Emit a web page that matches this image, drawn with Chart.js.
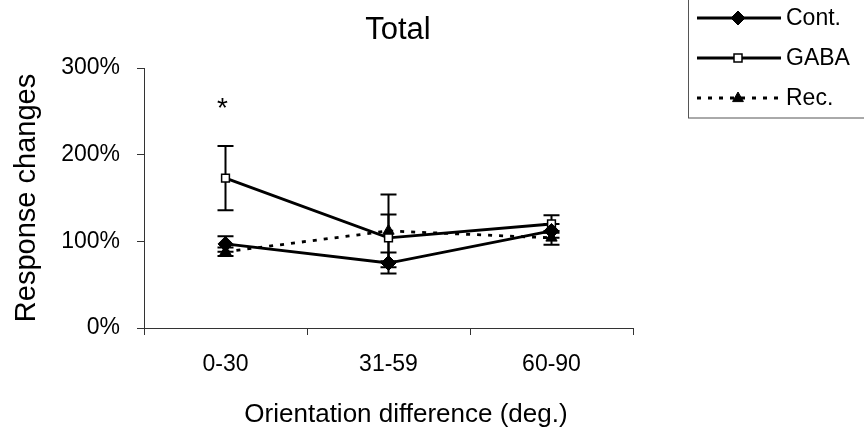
<!DOCTYPE html>
<html>
<head>
<meta charset="utf-8">
<script src="https://cdn.jsdelivr.net/npm/chart.js@4.4.1/dist/chart.umd.min.js"></script>
<style>
  html, body { margin: 0; padding: 0; background: #fff; }
  #wrap { width: 864px; height: 434px; position: relative; }
</style>
</head>
<body>
<div id="wrap"><canvas id="c" width="864" height="434"></canvas></div>
<script>
// ---- data ----
const categories = ["0-30", "31-59", "60-90"];
const seriesNames = ["Cont.", "GABA", "Rec."];
const contValues = [97, 75, 112];
const contErrors = [9, 12, 8];
const gabaValues = [173, 104, 120];
const gabaErrors = [37, 27, 10];
const recValues = [88, 112, 104];
const recErrors = [5, 42, 8];
const yTicks = [0, 100, 200, 300];
const chartTitle = "Total";
const xTitle = "Orientation difference (deg.)";
const yTitle = "Response changes";
const starCategoryIndex = 0;
const starLevel = 262;

const FONT = "'Liberation Sans', Arial, Helvetica, sans-serif";

function drawMarker(ctx, style, x, y, r, fill, stroke, lw) {
  ctx.save();
  ctx.beginPath();
  if (style === 'diamond') {
    ctx.moveTo(x, y - r); ctx.lineTo(x + r, y); ctx.lineTo(x, y + r); ctx.lineTo(x - r, y); ctx.closePath();
  } else if (style === 'square') {
    ctx.rect(x - r, y - r, 2 * r, 2 * r);
  } else if (style === 'triangle') {
    ctx.moveTo(x, y - r); ctx.lineTo(x + r * 0.9, y + r * 0.6); ctx.lineTo(x - r * 0.9, y + r * 0.6); ctx.closePath();
  }
  ctx.fillStyle = fill; ctx.fill();
  ctx.lineWidth = lw; ctx.strokeStyle = stroke; ctx.stroke();
  ctx.restore();
}

const errorBars = {
  id: 'errorBars',
  beforeDatasetsDraw(chart) {
    const ctx = chart.ctx;
    const y = chart.scales.y;
    chart.data.datasets.forEach((ds, di) => {
      const meta = chart.getDatasetMeta(di);
      meta.data.forEach((pt, i) => {
        const v = ds.data[i], e = ds.errors[i];
        const yt = y.getPixelForValue(v + e), yb = y.getPixelForValue(v - e);
        ctx.save();
        ctx.strokeStyle = '#000';
        ctx.lineWidth = 2;
        ctx.beginPath();
        ctx.moveTo(pt.x, yt); ctx.lineTo(pt.x, yb);
        ctx.moveTo(pt.x - 8, yt); ctx.lineTo(pt.x + 8, yt);
        ctx.moveTo(pt.x - 8, yb); ctx.lineTo(pt.x + 8, yb);
        ctx.stroke();
        ctx.restore();
      });
    });
  }
};

const extras = {
  id: 'extras',
  afterDraw(chart) {
    const ctx = chart.ctx;
    ctx.save();
    ctx.fillStyle = '#000';
    // chart title
    ctx.font = "31px " + FONT;
    ctx.textAlign = 'center';
    ctx.textBaseline = 'alphabetic';
    ctx.fillText(chartTitle, 398, 39);
    // x axis title
    ctx.font = "26px " + FONT;
    ctx.fillText(xTitle, 406, 422);
    // significance star
    const sx = chart.scales.x.getPixelForValue(starCategoryIndex) - 3;
    const sy = chart.scales.y.getPixelForValue(starLevel);
    ctx.font = "28px " + FONT;
    ctx.fillText("*", sx, sy + 0.57 * 28);
    // legend box
    ctx.strokeStyle = '#555';
    ctx.lineWidth = 1;
    ctx.strokeRect(688.5, -2, 200, 120);
    const rows = [18, 58, 98];
    const styles = ['diamond', 'square', 'triangle'];
    chart.data.datasets.forEach((ds, i) => {
      const ly = rows[i];
      ctx.save();
      ctx.strokeStyle = '#000';
      ctx.lineWidth = ds.borderWidth;
      ctx.setLineDash(ds.borderDash || []);
      ctx.beginPath();
      ctx.moveTo(697, ly); ctx.lineTo(781, ly);
      ctx.stroke();
      ctx.restore();
      if (styles[i] === 'diamond') drawMarker(ctx, 'diamond', 738, ly, 7, '#000', '#000', 1);
      if (styles[i] === 'square') drawMarker(ctx, 'square', 738, ly, 4, '#fff', '#000', 1.5);
      if (styles[i] === 'triangle') drawMarker(ctx, 'triangle', 738, ly, 6, '#000', '#000', 1);
      ctx.fillStyle = '#000';
      ctx.font = "23px " + FONT;
      ctx.textAlign = 'left';
      ctx.textBaseline = 'middle';
      ctx.fillText(ds.label, 786, ly + 1);
    });
    ctx.restore();
  }
};

new Chart(document.getElementById('c'), {
  type: 'line',
  data: {
    labels: categories,
    datasets: [
      { label: seriesNames[0], data: contValues, errors: contErrors,
        borderColor: '#000', backgroundColor: '#000', borderWidth: 2.8,
        pointStyle: 'rectRot', pointRadius: 7.5, pointBackgroundColor: '#000', pointBorderColor: '#000', pointBorderWidth: 1 },
      { label: seriesNames[1], data: gabaValues, errors: gabaErrors,
        borderColor: '#000', backgroundColor: '#fff', borderWidth: 2.8,
        pointStyle: 'rect', pointRadius: 5.5, pointBackgroundColor: '#fff', pointBorderColor: '#000', pointBorderWidth: 1.5 },
      { label: seriesNames[2], data: recValues, errors: recErrors,
        borderColor: '#000', backgroundColor: '#000', borderWidth: 2.8, borderDash: [4, 7],
        pointStyle: 'triangle', pointRadius: 6.5, pointBackgroundColor: '#000', pointBorderColor: '#000', pointBorderWidth: 1 }
    ]
  },
  options: {
    responsive: false,
    devicePixelRatio: 1,
    animation: false,
    layout: { padding: { left: 0, right: 231, top: 68, bottom: 0 } },
    plugins: { legend: { display: false }, title: { display: false }, tooltip: { enabled: false } },
    elements: { line: { tension: 0 } },
    scales: {
      x: {
        type: 'category',
        offset: true,
        grid: { display: true, drawOnChartArea: false, offset: true, tickLength: 7, color: '#333', lineWidth: 1 },
        border: { display: true, color: '#333', width: 1 },
        ticks: { color: '#000', font: { family: FONT, size: 23 }, padding: 16 },
        title: { display: false },
        afterFit(s) { s.height = 106; }
      },
      y: {
        min: 0, max: 300,
        afterBuildTicks(s) { s.ticks = yTicks.map(v => ({ value: v })); },
        grid: { display: true, drawOnChartArea: false, tickLength: 7, color: '#333', lineWidth: 1 },
        border: { display: true, color: '#333', width: 1 },
        ticks: { color: '#000', font: { family: FONT, size: 23 }, padding: 17, callback: v => v + '%' },
        title: { display: true, text: yTitle, color: '#000', font: { family: FONT, size: 29 }, padding: { top: 10, bottom: 0 } },
        afterFit(s) { s.width = 144; }
      }
    }
  },
  plugins: [errorBars, extras]
});
</script>
</body>
</html>
